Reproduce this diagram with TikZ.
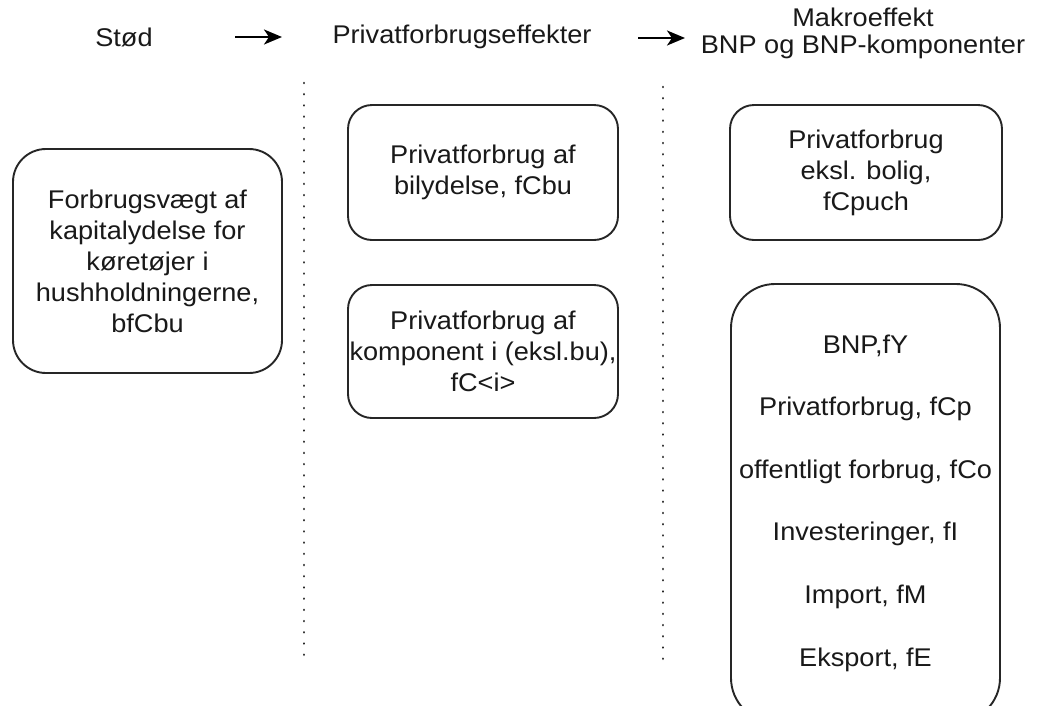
\documentclass[tikz,border=0pt]{standalone}
\usepackage{fontspec}
\setmainfont[FakeStretch=1.06]{Liberation Sans}
\usetikzlibrary{arrows.meta}
\begin{document}
\begin{tikzpicture}[x=1pt,y=-1pt,
  every node/.style={font=\fontsize{25.6}{31}\selectfont, text=black!90, align=center},
  box/.style={draw=black!85, line width=1.9pt, inner sep=0pt},
  sep/.style={draw=black!85, line width=2.6pt, dash pattern=on 0.01pt off 11.2pt, line cap=round},
  flow/.style={draw=black, line width=2.4pt, -{Stealth[length=18pt,width=15pt,inset=5pt]}}]
\useasboundingbox (0,0) rectangle (1039,705);
\fill[white] (0,0) rectangle (1039,705);

% headers
\node (stod) at (124,37) {Stød};
\node (privh) at (462,37) {Privatforbrugseffekter};
\node[font=\fontsize{25.6}{27}\selectfont] (makro) at (863,33.5) {Makroeffekt\\BNP og BNP-komponenter};

\coordinate (a1s) at (235,37);
\coordinate (a1e) at (282,37);
\coordinate (a2s) at (638,38);
\coordinate (a2e) at (685,38);
\draw[flow] (a1s) -- (a1e);
\draw[flow] (a2s) -- (a2e);

% dotted separators
\coordinate (d1t) at (304,83);
\coordinate (d1b) at (304,665);
\coordinate (d2t) at (663,87);
\coordinate (d2b) at (663,665);
\draw[sep] (d1t) -- (d1b);
\draw[sep] (d2t) -- (d2b);

% boxes
\node[box, minimum width=269pt, minimum height=224pt, rounded corners=33pt] (shock) at (147.5,261)
  {Forbrugsvægt af\\kapitalydelse for\\køretøjer i\\hushholdningerne,\\bfCbu};
\node[box, minimum width=270pt, minimum height=135pt, rounded corners=24pt] (bu) at (483,172.5)
  {Privatforbrug af\\bilydelse, fCbu};
\node[box, minimum width=270pt, minimum height=133pt, rounded corners=24pt] (ci) at (483,351.5)
  {Privatforbrug af\\komponent i (eksl.bu),\\fC<i>};
\node[box, minimum width=272pt, minimum height=135pt, rounded corners=24pt] (puch) at (866,172.5)
  {Privatforbrug\\eksl. bolig,\\fCpuch};
\node[box, minimum width=269pt, minimum height=438pt, rounded corners=44pt] (macro) at (865.5,503)
  {BNP,fY\\[31.6pt]Privatforbrug, fCp\\[31.6pt]offentligt forbrug, fCo\\[31.6pt]Investeringer, fI\\[31.6pt]Import, fM\\[31.6pt]Eksport, fE};
\end{tikzpicture}
\end{document}
